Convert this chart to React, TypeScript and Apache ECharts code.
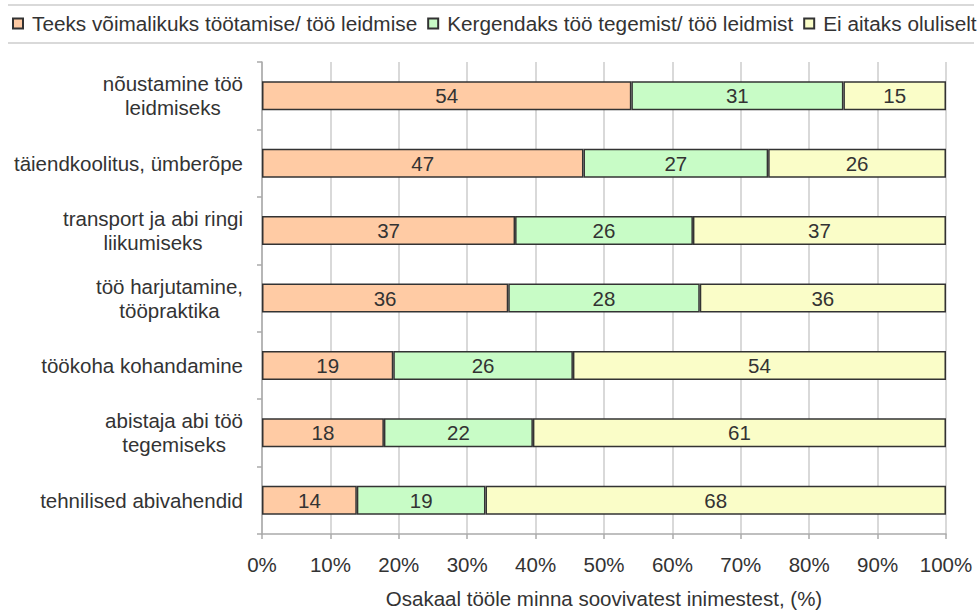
import React, { useEffect, useRef } from "react";
import * as echarts from "echarts";

const categories = [
  "nõustamine töö\nleidmiseks",
  "täiendkoolitus, ümberõpe",
  "transport ja abi ringi\nliikumiseks",
  "töö harjutamine,\ntööpraktika",
  "töökoha kohandamine",
  "abistaja abi töö\ntegemiseks",
  "tehnilised abivahendid",
];
const seriesNames = [
  "Teeks võimalikuks töötamise/ töö leidmise",
  "Kergendaks töö tegemist/ töö leidmist",
  "Ei aitaks oluliselt",
];
const enablesWork = [54, 47, 37, 36, 19, 18, 14];
const easesWork = [31, 27, 26, 28, 26, 22, 19];
const wouldNotHelp = [15, 26, 37, 36, 54, 61, 68];
const seriesColors = ["#FFCBA4", "#C8FCC6", "#FAFDC8"];
const xAxisTitle = "Osakaal tööle minna soovivatest inimestest, (%)";

const FONT = "'Liberation Sans', Arial, sans-serif";
const FS = 20.5;

export default function App() {
  const ref = useRef<HTMLDivElement>(null);
  useEffect(() => {
    if (!ref.current) return;
    const chart = echarts.init(ref.current, undefined, { renderer: "svg" });
    const raw = [enablesWork, easesWork, wouldNotHelp];
    const totals = categories.map((_, i) => raw[0][i] + raw[1][i] + raw[2][i]);
    const series = raw.map((vals, si) => ({
      name: seriesNames[si],
      type: "bar",
      stack: "total",
      barWidth: 29,
      data: vals.map((v, i) => (v / totals[i]) * 100),
      itemStyle: { color: seriesColors[si], borderColor: "#333", borderWidth: 1.5 },
      label: {
        show: true,
        position: "inside",
        color: "#333",
        fontSize: FS,
        fontFamily: FONT,
        formatter: (p: any) => String(vals[p.dataIndex]),
      },
    }));
    chart.setOption({
      animation: false,
      textStyle: { fontFamily: FONT },
      graphic: [
        { type: "line", shape: { x1: 8, y1: 5, x2: 974, y2: 5 }, style: { stroke: "#cccccc", lineWidth: 1.5 } },
        { type: "line", shape: { x1: 8, y1: 43, x2: 974, y2: 43 }, style: { stroke: "#cccccc", lineWidth: 1.5 } },
      ],
      legend: {
        left: 12,
        top: 13,
        width: 1500,
        padding: 0,
        itemWidth: 10,
        itemHeight: 10,
        itemGap: 10,
        icon: "rect",
        textStyle: { fontSize: 20.75, color: "#333", fontFamily: FONT, padding: [0, 0, 0, 4] },
        data: seriesNames,
      },
      grid: { left: 262, right: 33, top: 62, bottom: 77, containLabel: false },
      xAxis: {
        type: "value",
        min: 0,
        max: 100,
        interval: 10,
        name: xAxisTitle,
        nameLocation: "middle",
        nameGap: 54,
        nameTextStyle: { fontSize: FS, color: "#333", fontFamily: FONT },
        axisLine: { show: true, lineStyle: { color: "#aaaaaa", width: 1.5 } },
        axisTick: { show: true, length: 5, lineStyle: { color: "#aaaaaa", width: 1.5 } },
        axisLabel: { formatter: "{value}%", margin: 20, fontSize: FS, color: "#333", fontFamily: FONT },
        splitLine: { show: true, lineStyle: { color: "#cccccc", width: 1.5 } },
      },
      yAxis: {
        type: "category",
        data: categories,
        inverse: true,
        axisLine: { show: true, lineStyle: { color: "#aaaaaa", width: 1.5 } },
        axisTick: { show: true, length: 5, lineStyle: { color: "#aaaaaa", width: 1.5 } },
        axisLabel: {
          margin: 19,
          align: "right",
          fontSize: FS,
          lineHeight: 24,
          color: "#333",
          fontFamily: FONT,
          formatter: (v: string) => v.split("\n").map((l) => `{c|${l}}`).join("\n"),
          rich: { c: { align: "center", fontSize: FS, lineHeight: 24, color: "#333", fontFamily: FONT } },
        },
        splitLine: { show: false },
      },
      series,
    });
    return () => chart.dispose();
  }, []);
  return <div ref={ref} style={{ width: 979, height: 614, position: "absolute", left: 0, top: 0 }} />;
}
